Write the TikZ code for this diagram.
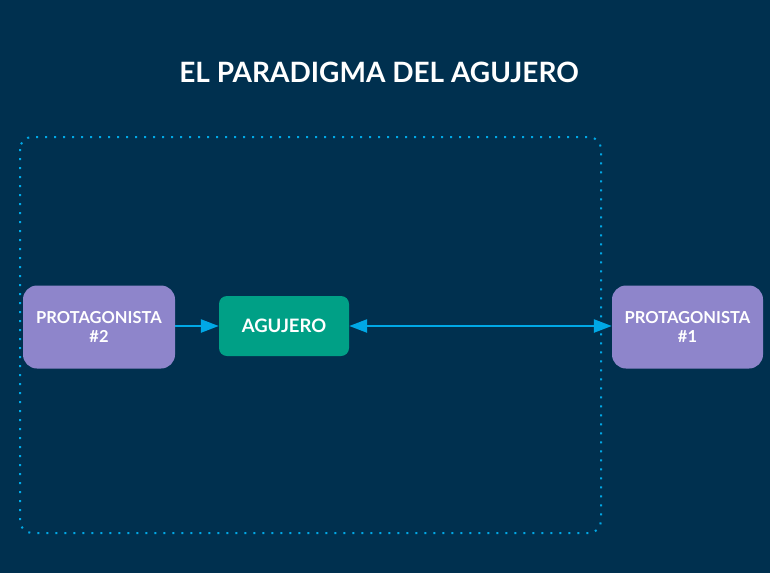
\documentclass[tikz,border=0pt]{standalone}
\usepackage{fontspec}
\setmainfont{Lato}
\usetikzlibrary{arrows.meta}
\definecolor{bg}{HTML}{00304F}
\definecolor{cyanline}{HTML}{00A8E6}
\definecolor{lav}{HTML}{8E85CB}
\definecolor{teal}{HTML}{00A086}
\tikzset{
  box/.style={rectangle, text=white, font=\fontsize{16.5}{19.5}\selectfont\bfseries, align=center, inner sep=0pt},
  conn/.style={draw=cyanline, line width=2.5pt, -{Triangle[length=18pt,width=13pt]}},
}
\begin{document}
\begin{tikzpicture}[x=1pt,y=-1pt]
\fill[bg] (0,0) rectangle (770,573);
\useasboundingbox (0,0) rectangle (770,573);
\node[text=white, font=\fontsize{28}{30}\selectfont\bfseries] (title) at (379,72) {EL PARADIGMA DEL AGUJERO};
\draw[cyanline, line width=2pt, dash pattern=on 2pt off 7pt, rounded corners=12pt] (20,137) rectangle (601,533);
\node[box, fill=lav, rounded corners=14pt, minimum width=152pt, minimum height=83pt, text depth=0pt] (p2) at (99,327) {PROTAGONISTA\\\#2};
\node[box, fill=teal, rounded corners=8pt, minimum width=130pt, minimum height=60pt, font=\fontsize{18.5}{20}\selectfont\bfseries] (ag) at (284,326) {AGUJERO};
\node[box, fill=lav, rounded corners=14pt, minimum width=151pt, minimum height=83pt] (p1) at (687.5,327) {PROTAGONISTA\\\#1};
\draw[conn] (p2.east |- ag) -- (ag.west);
\draw[conn, {Triangle[length=18pt,width=13pt]}-{Triangle[length=18pt,width=13pt]}] (ag.east) -- (p1.west |- ag);
\end{tikzpicture}
\end{document}
